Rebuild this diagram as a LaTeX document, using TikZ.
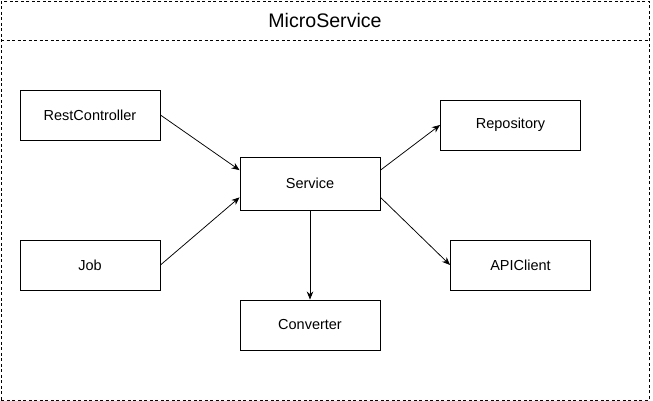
\documentclass[tikz,border=0pt]{standalone}
\usepackage{fontspec}
\setmainfont{Liberation Sans}
\usetikzlibrary{arrows.meta,calc}
\begin{document}
\begin{tikzpicture}[x=1pt,y=-1pt,
  comp/.style={draw=black,line width=0.9pt,minimum width=140pt,minimum height=50pt,inner sep=0pt,font=\fontsize{14.5}{16}\selectfont},
  conn/.style={draw=black,line width=0.75pt,-{Stealth[length=8pt,width=6.5pt]}},
  frame/.style={draw=black,line width=0.8pt,dash pattern=on 3pt off 2.5pt}]
\useasboundingbox (0,0) rectangle (653,401);
\fill[white] (0,0) rectangle (653,401);
\node[frame,minimum width=648pt,minimum height=398.5pt,inner sep=0pt,anchor=north west] (outer) at (1,1) {};
\coordinate (sepl) at (1,40.5);
\coordinate (sepr) at (649,40.5);
\draw[frame] (sepl) -- (sepr);
\node[font=\fontsize{19.6}{22}\selectfont] (title) at (325,20.5) {MicroService};
\node[comp] (rc) at (90,115) {RestController};
\node[comp] (job) at (90,265) {Job};
\node[comp,minimum height=53.5pt] (svc) at (310,183.75) {Service};
\node[comp] (repo) at (510.5,125) {Repository};
\node[comp] (api) at (520.5,265) {APIClient};
\node[comp] (conv) at (310,325) {Converter};
\draw[conn] (rc.east) -- ($(svc.north west)!0.25!(svc.south west)$);
\draw[conn] (job.east) -- ($(svc.north west)!0.75!(svc.south west)$);
\draw[conn] ($(svc.north east)!0.25!(svc.south east)$) -- (repo.west);
\draw[conn] ($(svc.north east)!0.75!(svc.south east)$) -- (api.west);
\draw[conn] (svc.south) -- (conv.north);
\end{tikzpicture}
\end{document}
